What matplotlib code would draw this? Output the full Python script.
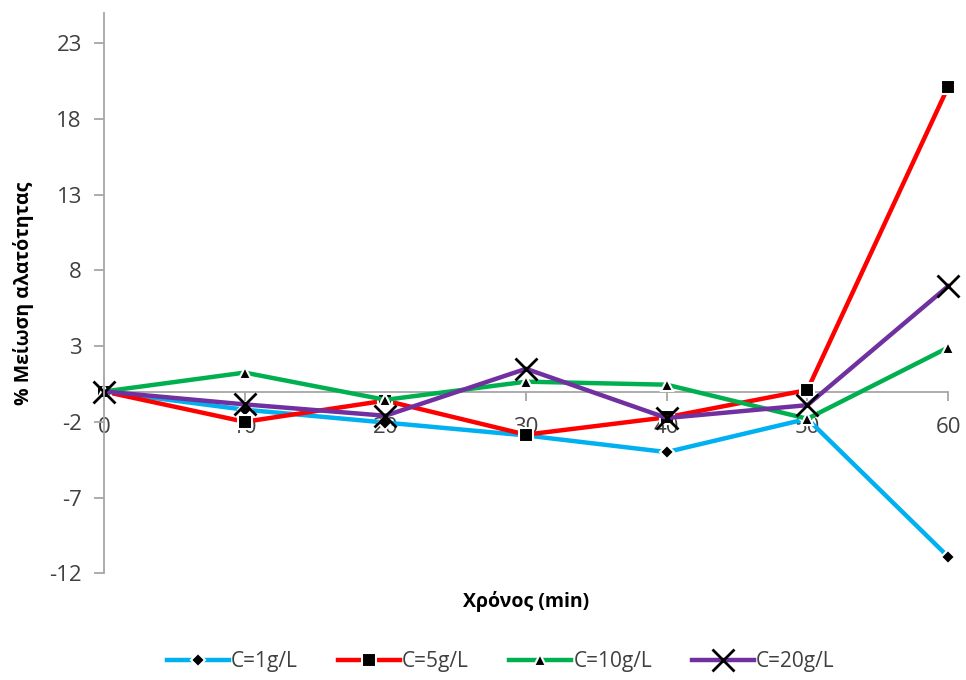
import matplotlib.pyplot as plt

plt.rcParams['font.family'] = ['Open Sans', 'DejaVu Sans']
plt.rcParams['axes.unicode_minus'] = False

# data
time_min = [0, 10, 20, 30, 40, 50, 60]
c1 = [0, -1.2, -2.05, -2.9, -4.0, -1.8, -10.9]
c5 = [0, -2.0, -0.6, -2.85, -1.7, 0.1, 20.1]
c10 = [0, 1.25, -0.55, 0.65, 0.45, -1.8, 2.9]
c20 = [0, -0.85, -1.6, 1.5, -1.75, -0.9, 6.95]
labels = ['C=1g/L', 'C=5g/L', 'C=10g/L', 'C=20g/L']
y_ticks = [-12, -7, -2, 3, 8, 13, 18, 23]

# (values, line colour, marker, marker size, marker edge width)
series = [
    (c1, '#00b0f0', 'D', 7, 1.5),
    (c5, '#ff0000', 's', 10, 1.5),
    (c10, '#00b050', '^', 9, 1.5),
    (c20, '#7030a0', 'x', 16, 2.0),
]

fig = plt.figure(figsize=(9.66, 6.8), dpi=100)
ax = fig.add_axes([0.1077, 0.157, 0.8737, 0.824])

for (vals, color, mk, ms, mew), lab in zip(series, labels):
    if mk == 'x':
        ax.plot(time_min, vals, color=color, lw=3.2, marker=mk, ms=ms,
                mec='black', mew=mew, label=lab, clip_on=False)
    else:
        ax.plot(time_min, vals, color=color, lw=3.2, marker=mk, ms=ms,
                mfc='black', mec='white', mew=mew, label=lab, clip_on=False)

ax.set_xlim(0, 60)
ax.set_ylim(-12, 25)
ax.set_xticks(time_min)
ax.set_yticks(y_ticks)

# axes styling: left spine only + zero line as x axis
for side in ['top', 'right']:
    ax.spines[side].set_visible(False)
ax.spines['bottom'].set_position(('data', 0))
for side in ['left', 'bottom']:
    ax.spines[side].set_color('#a6a6a6')
    ax.spines[side].set_linewidth(1.3)
ax.spines['bottom'].set_zorder(0.5)

ax.tick_params(axis='y', direction='out', length=7, width=1.3, color='#a6a6a6',
               labelsize=16, pad=9, labelcolor='#404040')
ax.tick_params(axis='x', direction='out', length=6.5, width=1.3, color='#a6a6a6',
               labelsize=16, pad=12, labelcolor='#404040')

ax.set_ylabel('% Μείωση αλατότητας', fontsize=14, fontweight='bold')
ax.yaxis.set_label_coords(-0.083, 0.5)
ax.set_xlabel('Χρόνος (min)', fontsize=14, fontweight='bold')
ax.xaxis.set_label_coords(0.5, -0.032)

ax.legend(loc='upper center', bbox_to_anchor=(0.47, -0.105), ncol=4, frameon=False,
          fontsize=15, handlelength=3.0, columnspacing=1.9, handletextpad=0.1,
          labelcolor='#404040')

fig.savefig('out.png', dpi=100)
